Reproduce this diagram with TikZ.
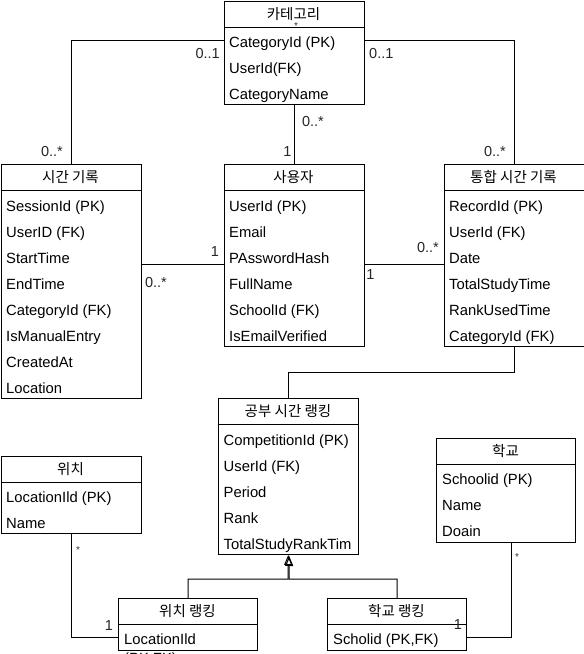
\documentclass[tikz,border=0pt]{standalone}
\usepackage{fontspec}
\setmainfont{Liberation Sans}
\newfontfamily\kr{Noto Sans CJK KR}
\usetikzlibrary{arrows.meta}
\begin{document}
\begin{tikzpicture}[x=1pt,y=-1pt,
  box/.style={draw=black,line width=1pt,fill=white,anchor=north west,inner sep=0pt},
  hdr/.style={font=\kr\fontsize{14.5}{17}\selectfont,inner sep=0pt,anchor=base},
  row/.style={font=\fontsize{14.8}{17}\selectfont,anchor=base west,inner sep=0pt},
  lbl/.style={font=\fontsize{14.5}{17}\selectfont,inner sep=0pt,text=black!85,anchor=base},
  star/.style={font=\fontsize{10}{12}\selectfont,inner sep=0pt,text=black!80},
  conn/.style={draw=black,line width=1pt},
  inhe/.style={draw=black,line width=1pt,-{Triangle[open,length=10pt,width=8pt]}}
]
\useasboundingbox (0,0) rectangle (584,654);

% ---------- class boxes ----------
\node[box,minimum width=140,minimum height=103] (cat) at (223.5,1) {};
\node[box,minimum width=140.5,minimum height=234] (time) at (0.5,164) {};
\node[box,minimum width=140,minimum height=182] (user) at (223.5,164) {};
\node[box,minimum width=140,minimum height=182] (intg) at (443.5,164) {};
\node[box,minimum width=139.5,minimum height=156] (rank) at (218,398) {};
\node[box,minimum width=140.5,minimum height=77] (loc) at (0.5,456) {};
\node[box,minimum width=139,minimum height=104] (school) at (436,438) {};
\node[box,minimum width=139,minimum height=52] (lrank) at (118,598) {};
\node[box,minimum width=139,minimum height=52] (srank) at (327,598) {};

% dividers
\foreach \b in {cat,time,user,intg,rank,loc,school,lrank,srank}
  \draw[line width=1pt] ([yshift=-26pt]\b.north west) -- ([yshift=-26pt]\b.north east);

% headers (baseline = centre + 5)
\node[hdr] (hcat) at (293.5,19) {카테고리};
\node[hdr] (htime) at (70.5,182) {시간 기록};
\node[hdr] (huser) at (293.5,182) {사용자};
\node[hdr] (hintg) at (513.5,182) {통합 시간 기록};
\node[hdr] (hrank) at (288,416) {공부 시간 랭킹};
\node[hdr] (hloc) at (70.5,474) {위치};
\node[hdr] (hschool) at (505.5,456) {학교};
\node[hdr] (hlrank) at (187.5,616) {위치 랭킹};
\node[hdr] (hsrank) at (396.5,616) {학교 랭킹};

% rows: 카테고리
\node[row] (c1) at (229,47) {CategoryId (PK)};
\node[row] (c2) at (229,73) {UserId(FK)};
\node[row] (c3) at (229,99) {CategoryName};
% 시간 기록
\node[row] (t1) at (6,211) {SessionId (PK)};
\node[row] (t2) at (6,237) {UserID (FK)};
\node[row] (t3) at (6,263) {StartTime};
\node[row] (t4) at (6,289) {EndTime};
\node[row] (t5) at (6,315) {CategoryId (FK)};
\node[row] (t6) at (6,341) {IsManualEntry};
\node[row] (t7) at (6,367) {CreatedAt};
\node[row] (t8) at (6,393) {Location};
% 사용자
\node[row] (u1) at (229,211) {UserId (PK)};
\node[row] (u2) at (229,237) {Email};
\node[row] (u3) at (229,263) {PAsswordHash};
\node[row] (u4) at (229,289) {FullName};
\node[row] (u5) at (229,315) {SchoolId (FK)};
\node[row] (u6) at (229,341) {IsEmailVerified};
% 통합 시간 기록
\node[row] (i1) at (449,211) {RecordId (PK)};
\node[row] (i2) at (449,237) {UserId (FK)};
\node[row] (i3) at (449,263) {Date};
\node[row] (i4) at (449,289) {TotalStudyTime};
\node[row] (i5) at (449,315) {RankUsedTime};
\node[row] (i6) at (449,341) {CategoryId (FK)};
% 공부 시간 랭킹
\node[row] (r1) at (223.5,445) {CompetitionId (PK)};
\node[row] (r2) at (223.5,471) {UserId (FK)};
\node[row] (r3) at (223.5,497) {Period};
\node[row] (r4) at (223.5,523) {Rank};
\node[row] (r5) at (223.5,549) {TotalStudyRankTim};
% 위치
\node[row] (l1) at (6,502) {LocationIld (PK)};
\node[row] (l2) at (6,528) {Name};
% 학교
\node[row] (s1) at (442,484) {Schoolid (PK)};
\node[row] (s2) at (442,510) {Name};
\node[row] (s3) at (442,536) {Doain};
% 위치 랭킹 / 학교 랭킹
\node[row] (lr1) at (124,644) {LocationIld};
\node[row] (lr2) at (124,663.5) {(PK,FK)};
\node[row] (sr1) at (333,644) {Scholid (PK,FK)};

% ---------- helper coordinates ----------
\coordinate (y40) at (0,40);
\coordinate (y264) at (0,264);
\coordinate (y372) at (0,372);
\coordinate (y637) at (0,637);
\coordinate (inh) at (288,579);
\coordinate (schx) at (511,542);

% ---------- connectors ----------
\draw[conn] (cat.west |- y40) -| (time.north);
\draw[conn] (cat.east |- y40) -| (intg.north);
\draw[conn] (cat.south) -- (user.north);
\draw[conn] (time.east |- y264) -- (user.west |- y264);
\draw[conn] (user.east |- y264) -- (intg.west |- y264);
\draw[conn] (intg.south) -- (intg.south |- y372) -| (rank.north);
\draw[conn] (loc.south) |- (lrank.west |- y637);
\draw[conn] (schx) |- (srank.east |- y637);
\draw[inhe] (lrank.north) |- (inh) -- (rank.south);
\draw[inhe] (srank.north) |- ([xshift=1pt]inh) -- ([xshift=1pt,yshift=-1pt]rank.south);

% ---------- multiplicity labels ----------
\node[lbl,anchor=base east] (m1) at (220,58) {0..1};
\node[lbl,anchor=base west] (m2) at (369,58) {0..1};
\node[lbl] (m3) at (52,156) {0..*};
\node[lbl] (m4) at (495,156) {0..*};
\node[lbl] (m5) at (313,126) {0..*};
\node[lbl] (m6) at (287.5,156) {1};
\node[star] (m7) at (296,26) {*};
\node[lbl] (m8) at (215,256) {1};
\node[lbl] (m9) at (156,287) {0..*};
\node[lbl] (m10) at (370.5,279) {1};
\node[lbl] (m11) at (428,252) {0..*};
\node[star] (m12) at (78,550) {*};
\node[star] (m13) at (517,557) {*};
\node[lbl] (m14) at (109,630) {1};
\node[lbl] (m15) at (458,629) {1};
\end{tikzpicture}
\end{document}
